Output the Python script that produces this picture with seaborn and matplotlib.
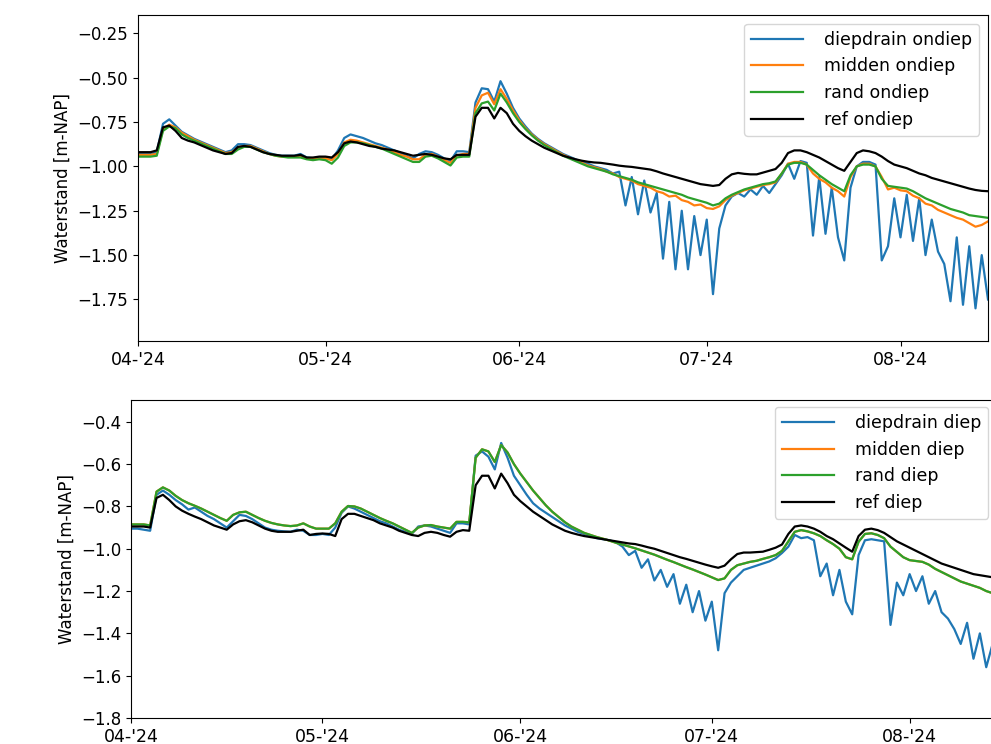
import numpy as np
import pandas as pd
import matplotlib
matplotlib.use("Agg")
import matplotlib.pyplot as plt
import matplotlib.dates as mdates
from matplotlib import font_manager
import seaborn as sns

start_date = "2024-04-01"
n_days = 137

# ---------------- ondiep (top) ----------------
diepdrain_ondiep = [
    -0.93, -0.93, -0.93, -0.92, -0.76, -0.735, -0.77, -0.805, -0.825, -0.845,
    -0.86, -0.875, -0.89, -0.905, -0.92, -0.91, -0.875, -0.875, -0.88, -0.895,
    -0.91, -0.925, -0.935, -0.94, -0.94, -0.94, -0.93, -0.95, -0.955, -0.95,
    -0.95, -0.96, -0.91, -0.84, -0.82, -0.83, -0.84, -0.855, -0.87, -0.88,
    -0.895, -0.91, -0.925, -0.94, -0.955, -0.93, -0.915, -0.92, -0.935, -0.955,
    -0.97, -0.915, -0.915, -0.92, -0.64, -0.56, -0.565, -0.635, -0.52, -0.59,
    -0.67, -0.73, -0.775, -0.815, -0.845, -0.87, -0.89, -0.91, -0.93, -0.945,
    -0.96, -0.975, -0.985, -1.0, -1.01, -1.02, -1.04, -1.03, -1.22, -1.06,
    -1.27, -1.08, -1.26, -1.15, -1.52, -1.20, -1.58, -1.25, -1.58, -1.28,
    -1.50, -1.30, -1.72, -1.35, -1.22, -1.17, -1.15, -1.17, -1.13, -1.16,
    -1.11, -1.15, -1.10, -1.05, -0.985, -1.07, -0.97, -0.98, -1.39, -1.06,
    -1.38, -1.12, -1.40, -1.53, -1.12, -1.0, -0.975, -0.975, -0.99, -1.53,
    -1.45, -1.18, -1.40, -1.16, -1.42, -1.18, -1.50, -1.30, -1.48, -1.55,
    -1.76, -1.40, -1.78, -1.45, -1.80, -1.50, -1.75,
]
midden_ondiep = [
    -0.935, -0.935, -0.935, -0.93, -0.79, -0.765, -0.78, -0.81, -0.83, -0.85,
    -0.865, -0.88, -0.895, -0.91, -0.925, -0.92, -0.895, -0.885, -0.885, -0.90,
    -0.915, -0.93, -0.94, -0.945, -0.945, -0.945, -0.94, -0.955, -0.96, -0.955,
    -0.955, -0.965, -0.93, -0.865, -0.85, -0.855, -0.865, -0.875, -0.885, -0.895,
    -0.905, -0.92, -0.935, -0.945, -0.96, -0.96, -0.935, -0.93, -0.945, -0.965,
    -0.98, -0.94, -0.93, -0.93, -0.67, -0.60, -0.585, -0.65, -0.565, -0.62,
    -0.685, -0.74, -0.785, -0.82, -0.85, -0.875, -0.895, -0.915, -0.935, -0.95,
    -0.965, -0.98, -0.995, -1.005, -1.015, -1.03, -1.04, -1.06, -1.07, -1.08,
    -1.10, -1.11, -1.12, -1.14, -1.15, -1.17, -1.165, -1.19, -1.20, -1.22,
    -1.215, -1.235, -1.24, -1.225, -1.19, -1.165, -1.15, -1.135, -1.125, -1.115,
    -1.105, -1.10, -1.09, -1.04, -0.985, -0.975, -0.975, -0.99, -1.04, -1.07,
    -1.09, -1.12, -1.14, -1.17, -1.06, -1.0, -0.985, -0.985, -1.0, -1.06,
    -1.13, -1.12, -1.135, -1.14, -1.165, -1.18, -1.21, -1.22, -1.245, -1.26,
    -1.275, -1.29, -1.30, -1.32, -1.34, -1.33, -1.31,
]
rand_ondiep = [
    -0.945, -0.945, -0.945, -0.94, -0.80, -0.775, -0.785, -0.82, -0.84, -0.855,
    -0.87, -0.885, -0.90, -0.915, -0.93, -0.93, -0.905, -0.89, -0.89, -0.905,
    -0.92, -0.93, -0.94, -0.945, -0.95, -0.95, -0.95, -0.96, -0.965, -0.96,
    -0.965, -0.985, -0.95, -0.885, -0.865, -0.865, -0.87, -0.88, -0.89, -0.90,
    -0.915, -0.93, -0.945, -0.96, -0.975, -0.975, -0.945, -0.94, -0.955, -0.975,
    -0.995, -0.95, -0.945, -0.945, -0.70, -0.645, -0.635, -0.685, -0.59, -0.64,
    -0.70, -0.75, -0.79, -0.825, -0.855, -0.88, -0.90, -0.92, -0.94, -0.955,
    -0.97, -0.985, -1.0, -1.01, -1.02, -1.03, -1.045, -1.055, -1.065, -1.075,
    -1.09, -1.10, -1.11, -1.12, -1.13, -1.14, -1.15, -1.16, -1.175, -1.185,
    -1.195, -1.205, -1.22, -1.21, -1.18, -1.16, -1.145, -1.13, -1.12, -1.11,
    -1.10, -1.095, -1.085, -1.04, -0.99, -0.98, -0.98, -0.99, -1.02, -1.05,
    -1.075, -1.10, -1.12, -1.14, -1.05, -1.0, -0.99, -0.99, -1.0, -1.07,
    -1.11, -1.115, -1.12, -1.125, -1.14, -1.16, -1.18, -1.195, -1.21, -1.225,
    -1.24, -1.25, -1.26, -1.275, -1.28, -1.285, -1.29,
]
ref_ondiep = [
    -0.92, -0.92, -0.92, -0.91, -0.78, -0.77, -0.80, -0.84, -0.855, -0.865,
    -0.88, -0.895, -0.91, -0.92, -0.93, -0.925, -0.89, -0.885, -0.89, -0.905,
    -0.92, -0.93, -0.935, -0.94, -0.94, -0.94, -0.935, -0.95, -0.95, -0.945,
    -0.945, -0.95, -0.92, -0.87, -0.86, -0.865, -0.875, -0.885, -0.89, -0.90,
    -0.905, -0.91, -0.92, -0.93, -0.94, -0.935, -0.93, -0.935, -0.945, -0.955,
    -0.96, -0.935, -0.935, -0.935, -0.72, -0.67, -0.67, -0.73, -0.67, -0.70,
    -0.76, -0.80, -0.83, -0.855, -0.875, -0.895, -0.91, -0.925, -0.94, -0.95,
    -0.96, -0.968, -0.974, -0.978, -0.98, -0.985, -0.99, -0.996, -1.0, -1.003,
    -1.008, -1.013, -1.018, -1.028, -1.04, -1.05, -1.06, -1.07, -1.08, -1.09,
    -1.10, -1.105, -1.11, -1.105, -1.07, -1.045, -1.037, -1.042, -1.045, -1.045,
    -1.035, -1.025, -1.015, -0.98, -0.925, -0.91, -0.91, -0.92, -0.935, -0.95,
    -0.97, -0.99, -1.01, -1.025, -0.975, -0.925, -0.91, -0.915, -0.925, -0.945,
    -0.97, -0.99, -1.0, -1.01, -1.025, -1.04, -1.05, -1.065, -1.075, -1.085,
    -1.095, -1.105, -1.115, -1.125, -1.133, -1.138, -1.14,
]

# ---------------- diep (bottom) ----------------
diepdrain_diep = [
    -0.905, -0.905, -0.91, -0.915, -0.745, -0.725, -0.745, -0.77, -0.79, -0.815,
    -0.805, -0.825, -0.845, -0.86, -0.88, -0.90, -0.87, -0.84, -0.845, -0.86,
    -0.88, -0.90, -0.91, -0.915, -0.918, -0.92, -0.91, -0.915, -0.935, -0.935,
    -0.93, -0.935, -0.90, -0.83, -0.80, -0.81, -0.825, -0.84, -0.855, -0.87,
    -0.88, -0.895, -0.91, -0.92, -0.93, -0.895, -0.89, -0.895, -0.905, -0.915,
    -0.925, -0.88, -0.88, -0.885, -0.56, -0.54, -0.565, -0.625, -0.50, -0.57,
    -0.655, -0.70, -0.745, -0.785, -0.81, -0.83, -0.85, -0.87, -0.89, -0.905,
    -0.92, -0.93, -0.94, -0.95, -0.955, -0.96, -0.97, -0.99, -1.03, -1.01,
    -1.09, -1.05, -1.15, -1.10, -1.18, -1.12, -1.26, -1.17, -1.30, -1.20,
    -1.34, -1.25, -1.48, -1.21, -1.16, -1.13, -1.10, -1.09, -1.08, -1.07,
    -1.06, -1.045, -1.02, -0.99, -0.935, -0.95, -0.945, -0.96, -1.13, -1.07,
    -1.22, -1.10, -1.25, -1.31, -1.03, -0.96, -0.955, -0.96, -0.965, -1.36,
    -1.16, -1.22, -1.12, -1.20, -1.13, -1.26, -1.20, -1.30, -1.33, -1.38,
    -1.45, -1.35, -1.52, -1.40, -1.56, -1.45, -1.58,
]
rand_diep = [
    -0.885, -0.885, -0.885, -0.89, -0.73, -0.71, -0.725, -0.75, -0.77, -0.785,
    -0.797, -0.81, -0.825, -0.84, -0.855, -0.868, -0.84, -0.828, -0.825, -0.84,
    -0.855, -0.868, -0.878, -0.885, -0.89, -0.893, -0.89, -0.88, -0.895, -0.905,
    -0.905, -0.905, -0.88, -0.825, -0.798, -0.80, -0.81, -0.825, -0.84, -0.855,
    -0.868, -0.88, -0.895, -0.91, -0.925, -0.90, -0.89, -0.888, -0.895, -0.90,
    -0.905, -0.873, -0.873, -0.875, -0.57, -0.53, -0.54, -0.59, -0.51, -0.545,
    -0.60, -0.645, -0.685, -0.725, -0.76, -0.795, -0.825, -0.85, -0.875, -0.895,
    -0.91, -0.925, -0.935, -0.945, -0.953, -0.962, -0.972, -0.98, -0.989, -0.998,
    -1.008, -1.018, -1.028, -1.04, -1.052, -1.063, -1.075, -1.087, -1.098, -1.11,
    -1.122, -1.135, -1.148, -1.14, -1.10, -1.078, -1.07, -1.062, -1.057, -1.048,
    -1.04, -1.03, -1.01, -0.965, -0.92, -0.912, -0.918, -0.927, -0.94, -0.96,
    -0.978, -1.0, -1.04, -1.05, -0.967, -0.93, -0.927, -0.935, -0.95, -0.99,
    -1.015, -1.04, -1.054, -1.058, -1.062, -1.075, -1.095, -1.11, -1.125, -1.14,
    -1.155, -1.165, -1.175, -1.185, -1.20, -1.21, -1.22,
]
# midden diep lies exactly under rand diep in the reference
midden_diep = list(rand_diep)
ref_diep = [
    -0.895, -0.895, -0.895, -0.90, -0.76, -0.745, -0.77, -0.80, -0.82, -0.835,
    -0.848, -0.86, -0.875, -0.89, -0.90, -0.91, -0.885, -0.87, -0.865, -0.875,
    -0.89, -0.905, -0.915, -0.92, -0.92, -0.92, -0.915, -0.91, -0.935, -0.93,
    -0.928, -0.93, -0.94, -0.86, -0.835, -0.835, -0.845, -0.855, -0.865, -0.88,
    -0.89, -0.90, -0.915, -0.925, -0.935, -0.94, -0.925, -0.92, -0.925, -0.935,
    -0.943, -0.92, -0.912, -0.915, -0.70, -0.655, -0.655, -0.715, -0.645, -0.69,
    -0.745, -0.775, -0.80, -0.825, -0.845, -0.865, -0.885, -0.90, -0.915, -0.925,
    -0.933, -0.94, -0.945, -0.95, -0.955, -0.96, -0.965, -0.97, -0.975, -0.978,
    -0.985, -0.993, -1.0, -1.01, -1.02, -1.03, -1.04, -1.048, -1.057, -1.066,
    -1.075, -1.083, -1.09, -1.08, -1.05, -1.025, -1.018, -1.018, -1.016, -1.014,
    -1.005, -0.995, -0.98, -0.93, -0.895, -0.89, -0.895, -0.905, -0.92, -0.94,
    -0.955, -0.975, -0.995, -1.014, -0.94, -0.91, -0.905, -0.912, -0.925, -0.945,
    -0.965, -0.98, -0.995, -1.01, -1.025, -1.04, -1.055, -1.07, -1.08, -1.09,
    -1.10, -1.11, -1.12, -1.125, -1.13, -1.135, -1.14,
]

labels_top = ["diepdrain ondiep", "midden ondiep", "rand ondiep", "ref ondiep"]
labels_bot = ["diepdrain diep", "midden diep", "rand diep", "ref diep"]
colors = ["#1f77b4", "#ff7f0e", "#2ca02c", "#000000"]

dates = pd.date_range(start_date, periods=n_days, freq="D")

avail = {f.name for f in font_manager.fontManager.ttflist}
narrow = "Liberation Sans Narrow" if "Liberation Sans Narrow" in avail else "DejaVu Sans"

fig = plt.figure(figsize=(9.91, 7.44), dpi=100)
W, H = 991.0, 744.0
ax1 = fig.add_axes([138 / W, 1 - 341 / H, 850 / W, (341 - 15) / H])
ax2 = fig.add_axes([131 / W, 1 - 718 / H, 868 / W, (718 - 400) / H])

top_series = [diepdrain_ondiep, midden_ondiep, rand_ondiep, ref_ondiep]
bot_series = [diepdrain_diep, midden_diep, rand_diep, ref_diep]

for ax, series, labels in [(ax1, top_series, labels_top), (ax2, bot_series, labels_bot)]:
    for vals, lab, col in zip(series, labels, colors):
        df = pd.DataFrame({"datum": dates, "waarde": vals})
        sns.lineplot(data=df, x="datum", y="waarde", color=col, label=lab,
                     ax=ax, linewidth=1.6, legend=False)
    ax.set_xlim(pd.Timestamp("2024-04-01"), pd.Timestamp("2024-08-15"))
    ax.xaxis.set_major_locator(mdates.MonthLocator())
    ax.xaxis.set_major_formatter(mdates.DateFormatter("%m-'%y"))
    ax.set_xlabel("")
    ax.set_ylabel("Waterstand [m-NAP]", fontsize=12, family=[narrow, "DejaVu Sans"])
    ax.tick_params(axis="y", labelsize=12)
    ax.tick_params(axis="x", labelsize=12.5)
    for t in ax.get_xticklabels():
        t.set_family([narrow, "DejaVu Sans"])

ax1.set_ylim(-1.984, -0.147)
ax1.set_yticks([-1.75, -1.5, -1.25, -1.0, -0.75, -0.5, -0.25])
ax2.set_ylim(-1.8, -0.297)
ax2.set_yticks([-1.8, -1.6, -1.4, -1.2, -1.0, -0.8, -0.6, -0.4])

ax1.legend(loc="upper right", fontsize=12.5, handlelength=3.0, handletextpad=1.2)
ax2.legend(loc="upper right", fontsize=12.5, handlelength=3.0, handletextpad=1.2,
           bbox_to_anchor=(988 / W, 1 - 407 / H), bbox_transform=fig.transFigure,
           borderaxespad=0)

fig.savefig("out.png", dpi=100)
